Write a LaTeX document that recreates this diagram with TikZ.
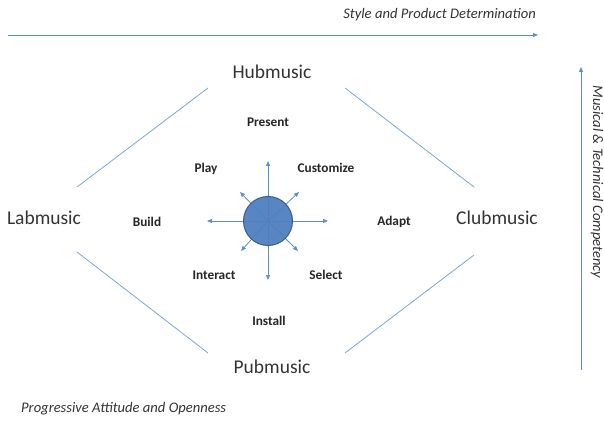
\documentclass[tikz,border=0pt]{standalone}
\usepackage{fontspec}
\setmainfont{Carlito}
\usetikzlibrary{arrows.meta}
\definecolor{lineblue}{HTML}{5B8FD0}
\definecolor{circfill}{HTML}{4F7FBF}
\definecolor{circdraw}{HTML}{385D8A}
\definecolor{txtgray}{HTML}{333333}
\begin{document}
\begin{tikzpicture}[x=1pt,y=-1pt,
  conn/.style={draw=lineblue!80, line width=0.8pt},
  axis/.style={draw=lineblue, line width=0.8pt, -{Triangle[length=5pt,width=4pt]}},
  ray/.style={draw=lineblue, line width=0.8pt, -{Triangle[length=5pt,width=4pt]}},
  big/.style={font=\fontsize{19.5}{21}\selectfont, text=txtgray, inner sep=1pt},
  small/.style={font=\bfseries\fontsize{13.3}{15}\selectfont, text=black!85, inner sep=1pt},
  axlabel/.style={font=\itshape\fontsize{14.6}{16}\selectfont, text=txtgray, inner sep=1pt}]
\useasboundingbox (0,0) rectangle (604,427);
% axes
\coordinate (h0) at (8,35);
\coordinate (h1) at (538,35);
\draw[axis] (h0) -- (h1);
\node[axlabel, anchor=east] (styleT) at (537,15) {Style and Product Determination};
\coordinate (v0) at (581,370);
\coordinate (v1) at (581,67);
\draw[axis] (v0) -- (v1);
\node[axlabel, rotate=-90] (musT) at (597,182) {Musical \& Technical Competency};
\node[axlabel, anchor=west] (progT) at (20,409) {Progressive Attitude and Openness};
% diamond labels
\node[big] (hub) at (272,72) {Hubmusic};
\node[big] (lab) at (44,218) {Labmusic};
\node[big] (club) at (497,218) {Clubmusic};
\node[big] (pub) at (272,367) {Pubmusic};
% diamond edges
\coordinate (a1) at (77,187); \coordinate (a2) at (208,88);
\coordinate (b1) at (345,88); \coordinate (b2) at (474,187);
\coordinate (c1) at (77,252); \coordinate (c2) at (208,353);
\coordinate (d1) at (345,353); \coordinate (d2) at (474,255);
\draw[conn] (a1) -- (a2);
\draw[conn] (b1) -- (b2);
\draw[conn] (c1) -- (c2);
\draw[conn] (d1) -- (d2);
% inner labels
\node[small] (present) at (268,122) {Present};
\node[small] (play) at (206,169) {Play};
\node[small] (custom) at (326,168) {Customize};
\node[small] (build) at (147,222) {Build};
\node[small] (adapt) at (394,222) {Adapt};
\node[small] (interact) at (214,275) {Interact};
\node[small] (select) at (326,275) {Select};
\node[small] (install) at (269,321) {Install};
% centre
\coordinate (ctr) at (268,221);
\coordinate (tN) at (268,161);
\coordinate (tS) at (268,280);
\coordinate (tW) at (207,221);
\coordinate (tE) at (328,221);
\coordinate (tNE) at (299,192);
\coordinate (tNW) at (240,192);
\coordinate (tSW) at (241,251);
\coordinate (tSE) at (298,251);
\foreach \t in {tN,tS,tW,tE,tNE,tNW,tSW,tSE}{\draw[ray] (ctr) -- (\t);}
\node[circle, minimum size=49pt, inner sep=0pt, fill=circfill, draw=circdraw, line width=1pt, fill opacity=0.95] (hubc) at (ctr) {};
\end{tikzpicture}
\end{document}
